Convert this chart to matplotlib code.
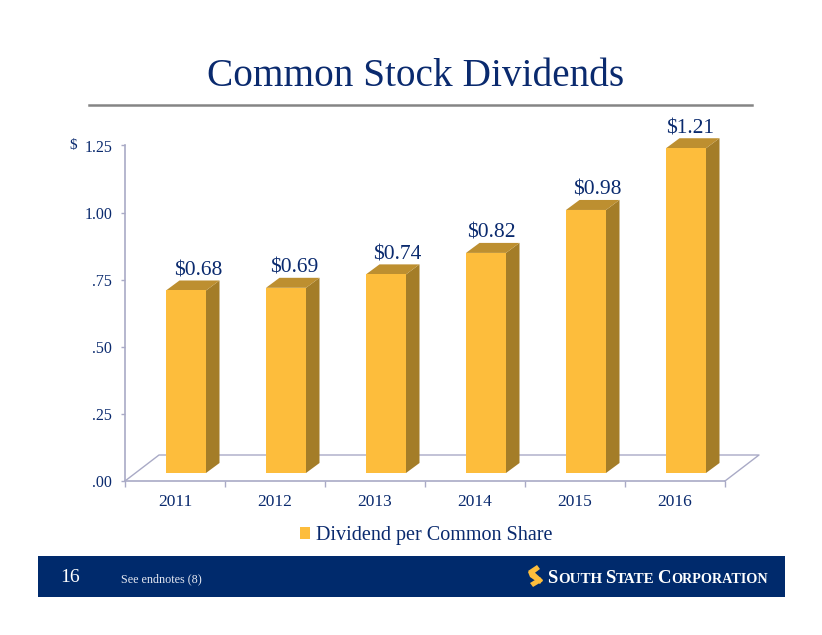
import matplotlib
matplotlib.use("Agg")
import matplotlib.pyplot as plt
from matplotlib.patches import Rectangle, Polygon

W, H = 822, 635
NAVY = "#0a2a6e"
BAND = "#002a6c"
GOLD = "#fdbd3c"
SIDE = "#a47d28"
TOP = "#bd8f30"
AXC = "#a9aac6"
SERIF = ["Liberation Serif", "DejaVu Serif"]
plt.rcParams["font.family"] = SERIF

# data
years = ["2011", "2012", "2013", "2014", "2015", "2016"]
dividends = [0.68, 0.69, 0.74, 0.82, 0.98, 1.21]
value_labels = ["$0.68", "$0.69", "$0.74", "$0.82", "$0.98", "$1.21"]
y_ticks = [0.0, 0.25, 0.5, 0.75, 1.0, 1.25]
y_tick_labels = [".00", ".25", ".50", ".75", "1.00", "1.25"]
series_name = "Dividend per Common Share"

# layout
label_dx_px = [12, 8, 11, 5, 11, 4]


def fx(px):
    return px / W


def fy(py):
    return 1 - py / H


fig = plt.figure(figsize=(W / 100, H / 100), dpi=100, facecolor="white")
ax = fig.add_axes([fx(125), fy(481), 600 / W, 335.5 / H])
ax.set_xlim(-0.5, 5.5)
ax.set_ylim(0, 1.25)
ax.patch.set_alpha(0)

UY = 1.25 / 335.5  # data units per pixel, y
UX = 6 / 600  # data units per pixel, x
bar_w = 40 * UX
x_off = 11 * UX
base = 8 * UY
dx = 13.5 * UX
dy = 10 * UY

# floor
fl_dx, fl_dy = 34 * UX, 26 * UY
ax.plot([-0.5, -0.5 + fl_dx, 5.5 + fl_dx, 5.5], [0, fl_dy, fl_dy, 0],
        color=AXC, lw=1.0, clip_on=False, zorder=1)

# bars
bars = ax.bar([i + x_off for i in range(len(years))], dividends, bottom=base,
              width=bar_w, color=GOLD, zorder=3, label=series_name)
for rect, val, txt, ldx in zip(bars, dividends, value_labels, label_dx_px):
    x0 = rect.get_x()
    x1 = x0 + bar_w
    y0 = base
    y1 = base + val
    ax.add_patch(Polygon([(x1, y0), (x1 + dx, y0 + dy), (x1 + dx, y1 + dy), (x1, y1)],
                         closed=True, fc=SIDE, ec="none", zorder=2.5, clip_on=False))
    ax.add_patch(Polygon([(x0, y1), (x0 + dx, y1 + dy), (x1 + dx, y1 + dy), (x1, y1)],
                         closed=True, fc=TOP, ec="none", zorder=2.5, clip_on=False))
    ax.annotate(txt, xy=((x0 + x1) / 2, y1), xytext=(ldx * 0.72, 19.5 * 0.72),
                textcoords="offset points", ha="center", va="center",
                color=NAVY, fontsize=15.5, annotation_clip=False, zorder=5)

# axes
for s in ("top", "right"):
    ax.spines[s].set_visible(False)
for s in ("left", "bottom"):
    ax.spines[s].set_color(AXC)
    ax.spines[s].set_linewidth(1.2)
ax.set_yticks(y_ticks)
ax.set_yticklabels(y_tick_labels)
ax.tick_params(axis="y", length=3.2, width=1, color=AXC, pad=6, labelsize=11.5,
               labelcolor=NAVY)
ax.set_xticks([i - 0.5 for i in range(len(years) + 1)])
ax.set_xticklabels([])
ax.set_xticks(range(len(years)), labels=years, minor=True)
ax.tick_params(axis="x", which="major", length=4, width=1, color=AXC)
ax.tick_params(axis="x", which="minor", length=0, pad=9.5, labelsize=12.5, labelcolor=NAVY)
fig.text(fx(73), fy(146), "$", ha="center", va="center", color=NAVY, fontsize=11)

# title and rule
fig.text(fx(416), fy(76), "Common Stock Dividends", ha="center", va="center",
         color=NAVY, fontsize=28.3)
fig.add_artist(plt.Line2D([fx(89), fx(752)], [fy(104.8), fy(104.8)], color="#858585", lw=1.8))

# legend
fig.legend(handles=[Rectangle((0, 0), 1, 1, fc=GOLD, ec="none")], labels=[series_name],
           loc="center", bbox_to_anchor=(fx(426), fy(535.5)), frameon=False,
           fontsize=14.5, labelcolor=NAVY, handlelength=0.5, handleheight=0.5,
           handletextpad=0.3, borderpad=0)

# footer band
fig.add_artist(Rectangle((fx(38), fy(597)), 747 / W, 41 / H, transform=fig.transFigure,
                         fc=BAND, ec="none"))
fig.text(fx(70), fy(577), "16", ha="center", va="center", color="white", fontsize=14, zorder=5)
fig.text(fx(121), fy(579), "See endnotes (8)", ha="left", va="center", color="#e6e9f2",
         fontsize=8.7, zorder=5)

# logo mark
for pts in (
    [(528, 571), (537, 565), (540, 569), (532, 575)],
    [(528, 572), (532, 570), (543, 580), (540, 584), (530, 577)],
    [(530, 583), (540, 577), (543, 581), (533, 587)],
):
    fig.add_artist(Polygon([(fx(a), fy(b)) for a, b in pts], closed=True,
                           transform=fig.transFigure, fc=GOLD, ec="none", zorder=5))

# logo wordmark
for text, size, start in [("S", 13.5, 547), ("OUTH", 10.8, 558), ("S", 13.5, 605), ("TATE", 10.8, 616),
                          ("C", 13.5, 657), ("ORPORATION", 10.2, 671)]:
    fig.text(fx(start), fy(583), text, ha="left", va="baseline", color="white",
             fontsize=size, fontweight="bold", zorder=5)

fig.savefig("out.png", dpi=100, facecolor="white")
